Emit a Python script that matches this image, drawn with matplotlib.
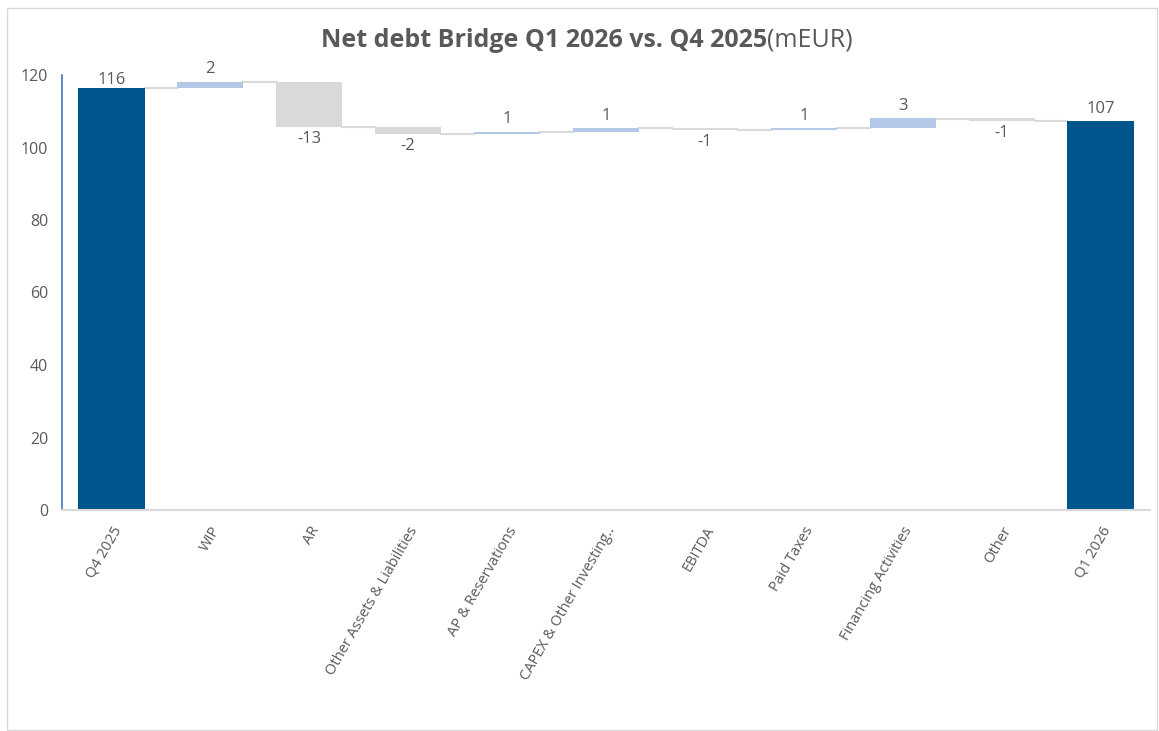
import matplotlib
matplotlib.use('Agg')

import matplotlib.pyplot as plt
import numpy as np
from matplotlib.patches import Rectangle

categories = ['Q4 2025', 'WIP', 'AR', 'Other Assets & Liabilities', 'AP & Reservations',
              'CAPEX & Other Investing..', 'EBITDA', 'Paid Taxes', 'Financing Activities',
              'Other', 'Q1 2026']
start_total = 116.4
changes = [1.8, -12.6, -1.8, 0.6, 1.0, -0.6, 0.6, 2.6, -0.6]

DARK = '#00558C'
POS = '#B4C7E7'
NEG = '#D9D9D9'
TXT = '#595959'

plt.rcParams['font.family'] = ['Open Sans', 'DejaVu Sans']

running = start_total + np.cumsum([0] + changes)
end_total = running[-1]

fig = plt.figure(figsize=(11.59, 7.31), dpi=100)
ax = fig.add_axes([62 / 1159, 221 / 731, 1088 / 1159, 435 / 731])

x = np.arange(len(categories))
w = 0.67

bottoms, heights, colors = [0], [start_total], [DARK]
for i, c in enumerate(changes):
    bottoms.append(min(running[i], running[i + 1]))
    heights.append(abs(c))
    colors.append(POS if c > 0 else NEG)
bottoms.append(0)
heights.append(end_total)
colors.append(DARK)

ax.bar(x, heights, bottom=bottoms, width=w, color=colors, zorder=2)

# connector lines between bars
for i in range(len(categories) - 1):
    lvl = running[i]
    ax.plot([x[i] + w / 2, x[i + 1] - w / 2], [lvl, lvl], color=NEG, lw=1.5, zorder=1)


def lab(v):
    return f'{v:.0f}'


ax.annotate(lab(start_total), (x[0], start_total), xytext=(0, 0), textcoords='offset points',
            ha='center', va='bottom', fontsize=12, color=TXT)
for i, c in enumerate(changes):
    xi = x[i + 1]
    if c > 0:
        ax.annotate(lab(c), (xi, running[i + 1]), xytext=(0, 3), textcoords='offset points',
                    ha='center', va='bottom', fontsize=12, color=TXT)
    else:
        ax.annotate(lab(c), (xi, running[i + 1]), xytext=(0, -3), textcoords='offset points',
                    ha='center', va='top', fontsize=12, color=TXT)
ax.annotate(lab(end_total), (x[-1], end_total), xytext=(0, 3), textcoords='offset points',
            ha='center', va='bottom', fontsize=12, color=TXT)

ax.set_xlim(-0.5, len(categories) - 0.5)
ax.set_ylim(0, 120)
ax.set_yticks(range(0, 121, 20))
ax.set_xticks(x)
ax.set_xticklabels(categories, rotation=60, ha='right', rotation_mode='anchor')
ax.tick_params(axis='x', length=0, pad=10, labelsize=10.5, labelcolor=TXT)
ax.tick_params(axis='y', length=0, pad=10, labelsize=11.5, labelcolor=TXT)

for s in ['top', 'right']:
    ax.spines[s].set_visible(False)
ax.spines['left'].set_color('#4472C4')
ax.spines['left'].set_linewidth(1.2)
ax.spines['bottom'].set_color('#D9D9D9')
ax.spines['bottom'].set_linewidth(1.5)

fig.text(0.662, 0.945, 'Net debt Bridge Q1 2026 vs. Q4 2025', ha='right', va='center',
         fontsize=18, fontweight='bold', color=TXT)
fig.text(0.662, 0.945, '(mEUR)', ha='left', va='center', fontsize=18, color=TXT)

fig.patches.append(Rectangle((7 / 1159, 1 / 731), 1150 / 1159, 722 / 731, transform=fig.transFigure,
                             fill=False, edgecolor='#D9D9D9', lw=1))

fig.savefig('out.png', dpi=100)
